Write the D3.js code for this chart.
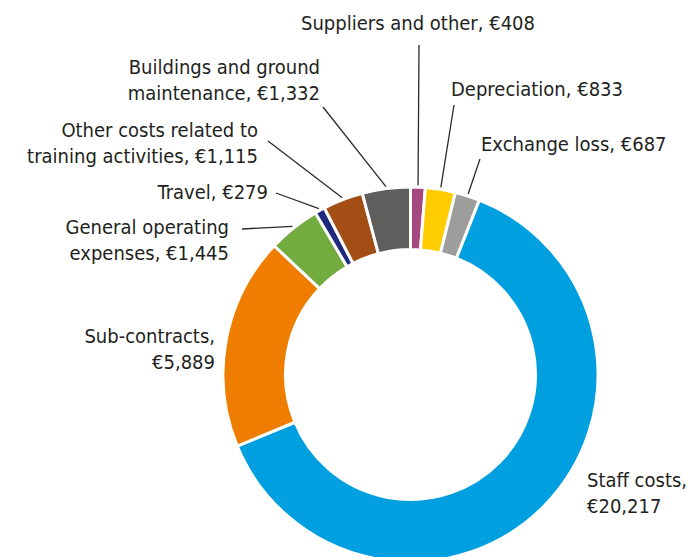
<!DOCTYPE html>
<html>
<head>
<meta charset="utf-8">
<script src="https://cdn.jsdelivr.net/npm/d3@7"></script>
<style>
  html, body { margin: 0; padding: 0; background: #fff; }
  svg { display: block; }
  .lbl { font-family: "Liberation Sans Narrow", "DejaVu Sans Condensed", "Roboto", sans-serif; font-size: 20px; fill: #231f20; }
</style>
</head>
<body>
<svg id="chart" width="694" height="557"></svg>
<script>
// Cost categories, clockwise from 12 o'clock (EUR thousands)
const categories = [
  "Suppliers and other",
  "Depreciation",
  "Exchange loss",
  "Staff costs",
  "Sub-contracts",
  "General operating expenses",
  "Travel",
  "Other costs related to training activities",
  "Buildings and ground maintenance"
];
const values = [408, 833, 687, 20217, 5889, 1445, 279, 1115, 1332];
const colors = ["#a6477f", "#ffcc00", "#9d9d9c", "#009fdf", "#ef7d00", "#72ac3f", "#1d2a7d", "#a34e14", "#5e5e5d"];

// Label text lines (value is appended from the values array)
const labelLines = [
  ["Suppliers and other, {v}"],
  ["Depreciation, {v}"],
  ["Exchange loss, {v}"],
  ["Staff costs,", "{v}"],
  ["Sub-contracts,", "{v}"],
  ["General operating", "expenses, {v}"],
  ["Travel, {v}"],
  ["Other costs related to", "training activities, {v}"],
  ["Buildings and ground", "maintenance, {v}"]
];

// Label layout: text anchor point, alignment, and leader end (null = no leader)
const labelLayout = [
  { x: 418, y: 30, anchor: "middle", lead: [419, 45] },
  { x: 451, y: 96, anchor: "start", lead: [454, 105] },
  { x: 481, y: 151, anchor: "start", lead: [480, 159] },
  { x: 587, y: 487, anchor: "start", lead: null },
  { x: 215, y: 343, anchor: "end", lead: null },
  { x: 229, y: 234, anchor: "end", lead: [242, 229] },
  { x: 268, y: 199, anchor: "end", lead: [276, 193] },
  { x: 258, y: 137, anchor: "end", lead: [268, 141] },
  { x: 320, y: 74, anchor: "end", lead: [323, 107] }
];

const width = 694, height = 557;
const cx = 410.5, cy = 374.5;
const outerR = 187.5, innerR = 125;
const lineH = 26;

const fmt = d3.format(",");
const svg = d3.select("#chart");

const data = categories.map((c, i) => ({ name: c, value: values[i], color: colors[i], lines: labelLines[i], layout: labelLayout[i] }));

const pie = d3.pie().value(d => d.value).sort(null).startAngle(0).endAngle(2 * Math.PI);
const arc = d3.arc().innerRadius(innerR).outerRadius(outerR);
const arcs = pie(data);

const g = svg.append("g").attr("transform", `translate(${cx},${cy})`);

g.selectAll("path.slice")
  .data(arcs)
  .join("path")
  .attr("class", "slice")
  .attr("d", arc)
  .attr("fill", d => d.data.color)
  .attr("stroke", "#fff")
  .attr("stroke-width", 3)
  .attr("stroke-linejoin", "miter");

// Leader lines from the ring edge to each label
arcs.forEach(d => {
  const L = d.data.layout;
  if (!L.lead) return;
  const mid = (d.startAngle + d.endAngle) / 2;
  const r = outerR + 2;
  const x0 = cx + r * Math.sin(mid), y0 = cy - r * Math.cos(mid);
  svg.append("line")
    .attr("x1", L.lead[0]).attr("y1", L.lead[1])
    .attr("x2", x0).attr("y2", y0)
    .attr("stroke", "#2b2b2b")
    .attr("stroke-width", 1.3);
});

// Labels
arcs.forEach(d => {
  const L = d.data.layout;
  const t = svg.append("text")
    .attr("class", "lbl")
    .attr("text-anchor", L.anchor)
    .attr("x", L.x).attr("y", L.y);
  d.data.lines.forEach((ln, i) => {
    t.append("tspan")
      .attr("x", L.x)
      .attr("dy", i === 0 ? 0 : lineH)
      .text(ln.replace("{v}", "€" + fmt(d.data.value)));
  });
});
</script>
</body>
</html>
